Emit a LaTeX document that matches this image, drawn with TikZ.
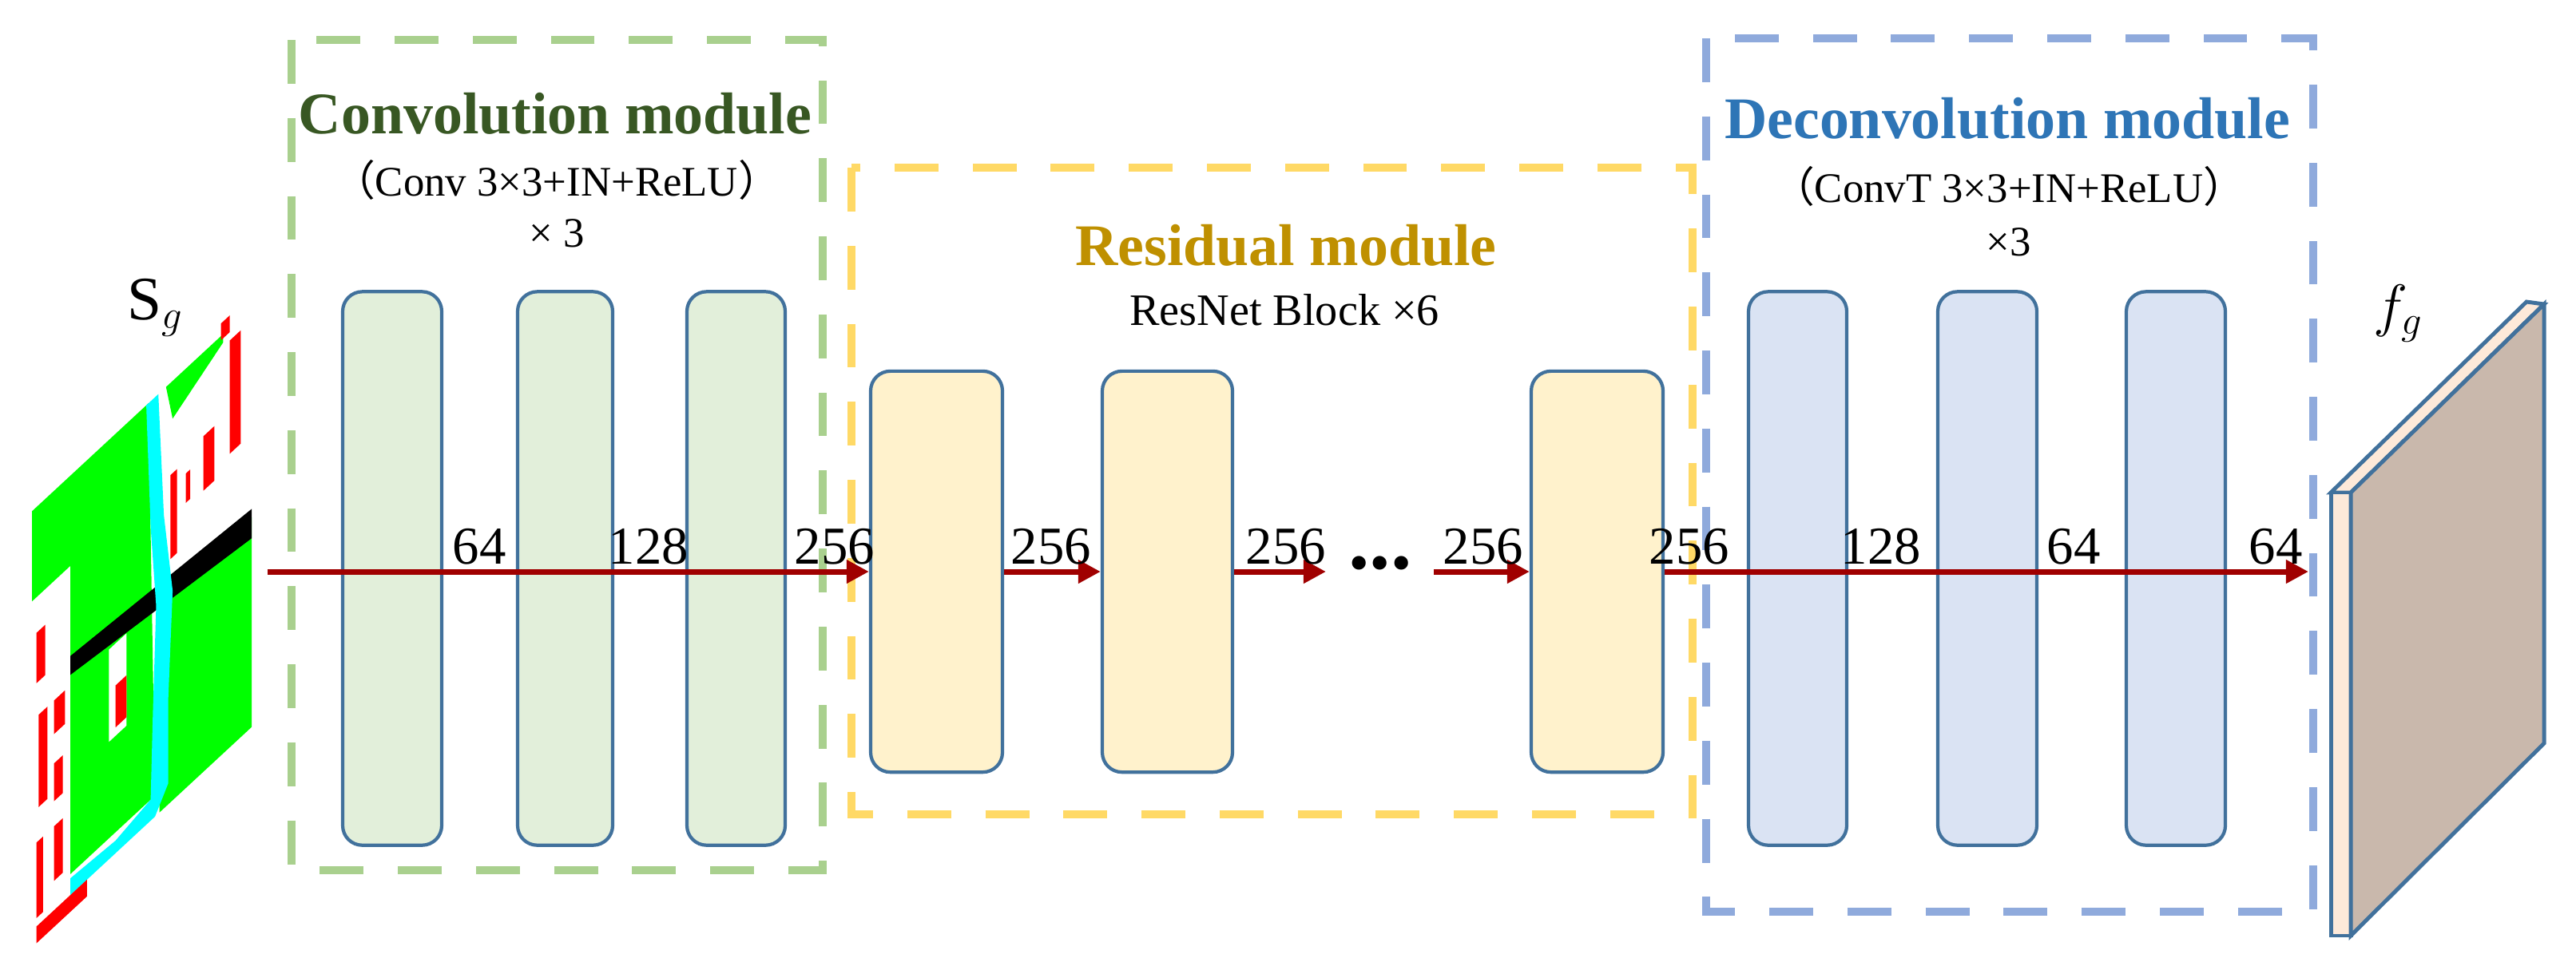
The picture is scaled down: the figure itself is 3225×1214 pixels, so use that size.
\documentclass[tikz,border=0pt]{standalone}
\usepackage{fontspec}
\setmainfont{Liberation Serif}
\newfontfamily\cjk{Noto Sans CJK SC}
\usetikzlibrary{arrows.meta}
\definecolor{dgreen}{RGB}{56,87,35}
\definecolor{lgreen}{RGB}{169,208,142}
\definecolor{ylw}{RGB}{255,217,102}
\definecolor{lblue}{RGB}{143,170,220}
\definecolor{gold}{RGB}{191,144,0}
\definecolor{dblue}{RGB}{46,117,182}
\definecolor{edge}{RGB}{65,113,156}
\definecolor{gfill}{RGB}{226,239,218}
\definecolor{yfill}{RGB}{255,242,204}
\definecolor{bfill}{RGB}{218,227,243}
\definecolor{arr}{RGB}{160,0,0}
\definecolor{slab}{RGB}{201,184,172}
\definecolor{slabside}{RGB}{253,233,217}
\definecolor{mgreen}{RGB}{0,255,0}
\definecolor{cyanr}{RGB}{0,255,255}
\newcommand{\fs}[1]{\fontsize{#1}{#1}\selectfont}
\newcommand{\fp}[1]{{\cjk #1}}
\newcommand{\pq}[4]{(#1,#2)--(#3,#2)--(#3,#4)--(#1,#4)--cycle}
\tikzset{
  module/.style={line width=2.8pt, dash pattern=on 15.6pt off 12.2pt},
  bar/.style={draw=edge, line width=1.2pt, rounded corners=7pt, inner sep=0pt},
  flow/.style={draw=arr, line width=2pt, -{Triangle[length=8pt,width=8pt]}},
  num/.style={font=\fs{19}, inner sep=0pt},
  title/.style={font=\fs{21}\bfseries, inner sep=0pt},
  sub/.style={font=\fs{15}, inner sep=0pt},
}
\begin{document}
\begin{tikzpicture}[x=0.01cm,y=-0.01cm]
\useasboundingbox (0,0) rectangle (3225,1214);

% module frames
\draw[module, lgreen] (365,50) rectangle (1030,1090);
\draw[module, ylw] (1066,210) rectangle (2119,1020);
\draw[module, lblue] (2136,48) rectangle (2896,1142);

% titles
\node[title, text=dgreen, anchor=base] (ct) at (695,167) {Convolution module};
\node[sub, anchor=center] (cs) at (697,225) {\fp{（}Conv 3×3+IN+ReLU\fp{）}};
\node[sub, anchor=center] (cx) at (697,292) {× 3};
\node[title, text=gold, anchor=base] (rt) at (1610,332) {Residual module};
\node[font=\fs{16}, inner sep=0pt, anchor=base] (rs) at (1608,407) {ResNet Block ×6};
\node[title, text=dblue, anchor=base] (dt) at (2513,173) {Deconvolution module};
\node[sub, anchor=center] (ds) at (2515,233) {\fp{（}ConvT 3×3+IN+ReLU\fp{）}};
\node[sub, anchor=center] (dx) at (2515,303) {×3};

% bars
\foreach \n/\a/\b in {g1/429/553, g2/648/767, g3/860/983}
  \node[bar, fill=gfill, minimum width={(\b-\a)*0.01cm}, minimum height=6.93cm] (\n) at ({(\a+\b)/2},712) {};
\foreach \n/\a/\b in {y1/1090/1255, y2/1380/1543, y3/1917/2082}
  \node[bar, fill=yfill, minimum width={(\b-\a)*0.01cm}, minimum height=5.02cm] (\n) at ({(\a+\b)/2},716) {};
\foreach \n/\a/\b in {b1/2189/2312, b2/2426/2550, b3/2662/2786}
  \node[bar, fill=bfill, minimum width={(\b-\a)*0.01cm}, minimum height=6.93cm] (\n) at ({(\a+\b)/2},712) {};

% input image S_g
\begin{scope}[shift={(0.4cm,-6.4cm)}, x={(2.75cm,2.55cm)}, y={(0cm,-5.25cm)}]
  \begin{scope}
  \clip \pq{0}{-0.04}{1}{1.05};
  \fill[mgreen] (0,0)--(0.53,0)--(0.56,0.95)--(0.175,0.95)--(0.175,0.215)--(0,0.215)--cycle;
  \fill[mgreen] (0.58,0.5)--(1,0.5)--(1,1)--(0.58,1)--cycle;
  \fill[mgreen] (0.61,0)--(0.87,0)--(0.87,0.02)--(0.64,0.09)--cycle;
  \fill[white] \pq{0.35}{0.5}{0.43}{0.72};
  \fill[red] \pq{0.38}{0.6}{0.43}{0.7};
  \fill[black] (0.175,0.43)--(1,0.48)--(1,0.55)--(0.175,0.475)--cycle;
  \fill[cyanr] (0.52,0)--(0.575,0)--(0.6,0.3)--(0.64,0.5)--(0.62,0.75)--(0.62,0.95)--(0.56,1.0)--(0.175,1.0)--(0.175,0.96)--(0.38,0.97)--(0.54,0.95)--(0.55,0.75)--(0.565,0.5)--(0.54,0.3)--cycle;
  \fill[red] \pq{0.63}{0.22}{0.66}{0.42};
  \fill[red] \pq{0.7}{0.25}{0.72}{0.32};
  \fill[red] \pq{0.78}{0.2}{0.83}{0.33};
  \fill[red] \pq{0.9}{0.03}{0.95}{0.3};
  \fill[red] \pq{0.86}{-0.03}{0.9}{0.01};
  \fill[red] \pq{0.02}{0.3}{0.06}{0.42};
  \fill[red] \pq{0.03}{0.5}{0.07}{0.72};
  \fill[red] \pq{0.1}{0.5}{0.15}{0.58};
  \fill[red] \pq{0.1}{0.65}{0.14}{0.74};
  \fill[red] \pq{0.02}{0.8}{0.05}{0.98};
  \fill[red] \pq{0.1}{0.8}{0.14}{0.93};
  \fill[red] \pq{0.02}{1.0}{0.25}{1.04};
  \end{scope}
\end{scope}
\node[font=\fs{22}, inner sep=0pt] (sg) at (195,385) {$\mathrm{S}_g$};

% output slab f_g
\fill[slabside, draw=edge, line width=1.4pt] (2918,617)--(3163,378)--(3185,381)--(2943,617)--cycle;
\fill[slabside, draw=edge, line width=1.4pt] (2918,617) rectangle (2943,1172);
\fill[slab, draw=edge, line width=1.4pt] (2943,617)--(3185,381)--(3185,931)--(2943,1172)--cycle;
\coordinate (slabin) at (2890,716);
\node[font=\fs{22}, inner sep=0pt] (fg) at (3003,393) {$f_g$};

% flow
\coordinate (start) at (335,716);
\node[font=\fs{30}\bfseries, inner sep=0pt] (dots) at (1728,705) {...};
\draw[flow] (start) -- (y1.west);
\draw[flow] (y1.east) -- (y2.west);
\draw[flow] (y2.east) -- (1660,716);
\draw[flow] (1795,716) -- (y3.west);
\draw[flow] (y3.east) -- (slabin);

% channel numbers
\foreach \x/\t in {600/64, 812/128, 1045/256, 1316/256, 1610/256, 1857/256, 2115/256, 2355/128, 2596/64, 2849/64}
  \node[num] at (\x,685) {\t};
\end{tikzpicture}
\end{document}
